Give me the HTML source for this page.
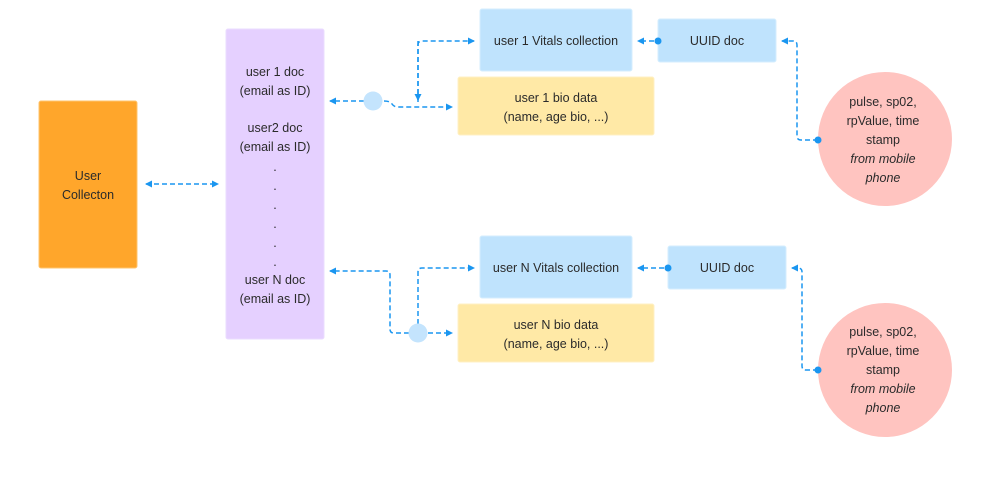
<!DOCTYPE html>
<html><head><meta charset="utf-8"><style>
html,body{margin:0;padding:0;background:#fff;}
svg text{font-family:"Liberation Sans",sans-serif;font-size:12.5px;fill:#2b2b2b;text-anchor:middle;}
</style></head><body>
<svg width="990" height="499" viewBox="0 0 990 499" xmlns="http://www.w3.org/2000/svg">
<defs>
<marker id="a" markerWidth="8" markerHeight="8" refX="6" refY="4" orient="auto-start-reverse" markerUnits="userSpaceOnUse">
<path d="M0,0.5 L7,4 L0,7.5 Z" fill="#1a96f0"/></marker>
</defs>
<g fill="none" stroke="#1a96f0" stroke-width="1.5" stroke-dasharray="5,3">
<line x1="146" y1="184" x2="218" y2="184" marker-end="url(#a)" marker-start="url(#a)"/>
<path d="M364,101 L330,101" marker-end="url(#a)"/>
<path d="M384,101 Q390,101 392,104 Q394,107 398,107 L452,107" marker-end="url(#a)"/>
<path d="M418,102 L418,45 Q418,41 422,41 L474,41" marker-end="url(#a)"/>
<path d="M418,41 L418,100" marker-end="url(#a)"/>
<path d="M654,41 L638,41" marker-end="url(#a)"/>
<path d="M818,140 L801,140 Q797,140 797,136 L797,45 Q797,41 793,41 L782,41" marker-end="url(#a)"/>
<path d="M409,333 L394,333 Q390,333 390,329 L390,275 Q390,271 386,271 L330,271" marker-end="url(#a)"/>
<path d="M428,333 L452,333" marker-end="url(#a)"/>
<path d="M418,324 L418,272 Q418,268 422,268 L474,268" marker-end="url(#a)"/>
<path d="M664,268 L638,268" marker-end="url(#a)"/>
<path d="M818,370 L806,370 Q802,370 802,366 L802,272 Q802,268 798,268 L792,268" marker-end="url(#a)"/>
</g>
<rect x="39" y="101" width="98" height="167" rx="2" fill="#ffa62b" stroke="#ffc46e"/>
<text x="88" y="180">User</text><text x="88" y="199">Collecton</text>
<rect x="226" y="29" width="98" height="310" rx="2" fill="#e5d0ff" stroke="#eadcff"/>
<g><text x="275" y="76">user 1 doc</text><text x="275" y="95">(email as ID)</text>
<text x="275" y="132">user2 doc</text><text x="275" y="151">(email as ID)</text>
<text x="275" y="171">.</text><text x="275" y="190">.</text><text x="275" y="209">.</text><text x="275" y="228">.</text><text x="275" y="247">.</text><text x="275" y="266">.</text>
<text x="275" y="284">user N doc</text><text x="275" y="303">(email as ID)</text></g>
<circle cx="373" cy="101" r="9.5" fill="#c4e4fd"/>
<circle cx="418" cy="333" r="9.5" fill="#c4e4fd"/>
<rect x="480" y="9" width="152" height="62" rx="2" fill="#bfe3fd" stroke="#d6eefe"/>
<text x="556" y="45">user 1 Vitals collection</text>
<rect x="658" y="19" width="118" height="43" rx="2" fill="#bfe3fd" stroke="#d6eefe"/>
<text x="717" y="45">UUID doc</text>
<rect x="458" y="77" width="196" height="58" rx="2" fill="#ffe9a6" stroke="#fff0c4"/>
<text x="556" y="102">user 1 bio data</text><text x="556" y="121">(name, age bio, ...)</text>
<rect x="480" y="236" width="152" height="62" rx="2" fill="#bfe3fd" stroke="#d6eefe"/>
<text x="556" y="272">user N Vitals collection</text>
<rect x="668" y="246" width="118" height="43" rx="2" fill="#bfe3fd" stroke="#d6eefe"/>
<text x="727" y="272">UUID doc</text>
<rect x="458" y="304" width="196" height="58" rx="2" fill="#ffe9a6" stroke="#fff0c4"/>
<text x="556" y="329">user N bio data</text><text x="556" y="348">(name, age bio, ...)</text>
<circle cx="885" cy="139" r="67" fill="#ffc4c0"/>
<circle cx="885" cy="370" r="67" fill="#ffc4c0"/>
<g fill="#1a96f0"><circle cx="658" cy="41" r="3.5"/><circle cx="818" cy="140" r="3.5"/><circle cx="668" cy="268" r="3.5"/><circle cx="818" cy="370" r="3.5"/></g>
<g><text x="883" y="106">pulse, sp02,</text><text x="883" y="125">rpValue, time</text><text x="883" y="144">stamp</text>
<text x="883" y="163" font-style="italic">from mobile</text><text x="883" y="182" font-style="italic">phone</text>
<text x="883" y="336">pulse, sp02,</text><text x="883" y="355">rpValue, time</text><text x="883" y="374">stamp</text>
<text x="883" y="393" font-style="italic">from mobile</text><text x="883" y="412" font-style="italic">phone</text></g>
</svg>
</body></html>
